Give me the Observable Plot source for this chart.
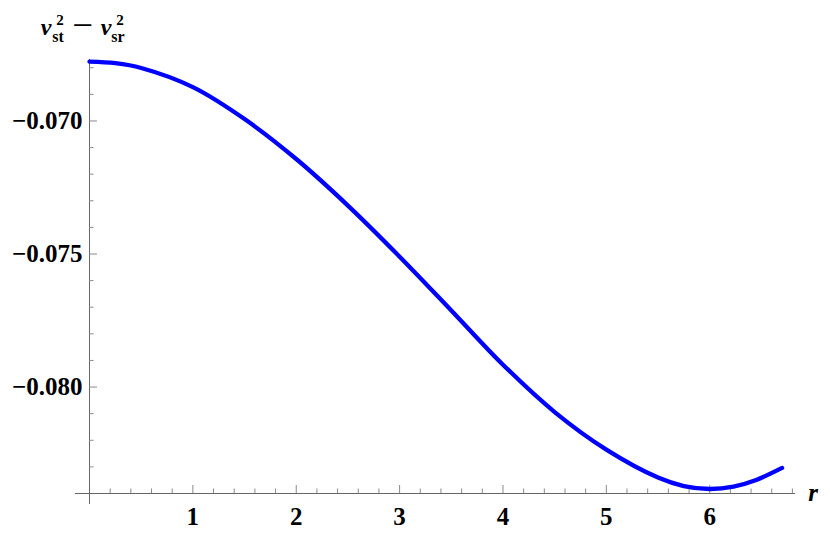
<!DOCTYPE html>
<html>
<head>
<meta charset="utf-8">
<script src="https://cdn.jsdelivr.net/npm/d3@7"></script>
<script src="https://cdn.jsdelivr.net/npm/@observablehq/plot@0.6"></script>
<style>
  html, body { margin: 0; padding: 0; background: #fff; }
</style>
</head>
<body>
<div id="chart"></div>
<script>
// ---- data ----
const rValues = [0, 0.25, 0.5, 1, 1.5, 2, 2.5, 3, 3.5, 4, 4.5, 5, 5.5, 5.75, 6, 6.23, 6.45, 6.7];
const diffValues = [-0.06777, -0.06783, -0.06801, -0.06873, -0.06993, -0.07143, -0.07318, -0.07510, -0.07712,
                    -0.07916, -0.08094, -0.08235, -0.08340, -0.08372, -0.08383, -0.08374, -0.08349, -0.08304];
const xTicks = [1, 2, 3, 4, 5, 6];
const xTickLabels = ["1", "2", "3", "4", "5", "6"];
const yTicks = [-0.070, -0.075, -0.080];
const yTickLabels = ["\u22120.070", "\u22120.075", "\u22120.080"];
const xDomain = [0, 6.83];
const yDomain = [-0.0840, -0.06769];

// ---- derived tables ----
const data = rValues.map((r, i) => ({r, v: diffValues[i]}));
const W = 830, H = 537;
const mL = 89, mR = 35, mT = 59, mB = 44;
const pxX = (W - mL - mR) / (xDomain[1] - xDomain[0]);   // px per x unit
const pxY = (H - mT - mB) / (yDomain[1] - yDomain[0]);   // px per y unit

const xMinor = d3.range(1, 35).map(i => +(i * 0.2).toFixed(2)).filter(d => Math.abs(d - Math.round(d)) > 1e-6 && d < xDomain[1]);
const yMinor = d3.range(-83, -67).map(i => i / 1000).filter(d => !yTicks.some(t => Math.abs(t - d) < 1e-9));

const axisColor = "#666";
const tickColor = "#8a8a8a";
const font = "'Liberation Serif', 'Times New Roman', serif";

const chart = Plot.plot({
  width: W, height: H,
  marginLeft: mL, marginRight: mR, marginTop: mT, marginBottom: mB,
  x: {domain: xDomain},
  y: {domain: yDomain},
  style: {fontFamily: font, fontSize: "25px", fontWeight: "bold", background: "#fff", overflow: "visible"},
  marks: [
    // axis lines (Mathematica-style crossing axes)
    Plot.ruleY([yDomain[0]], {x1: -14 / pxX, x2: xDomain[1], stroke: axisColor, strokeWidth: 1, clip: false}),
    Plot.ruleX([0], {y1: yDomain[0] - 11 / pxY, y2: yDomain[1], stroke: axisColor, strokeWidth: 1, clip: false}),
    // x ticks (inward)
    Plot.ruleX(xTicks, {x: d => d, y1: yDomain[0], y2: yDomain[0] + 8 / pxY, stroke: tickColor}),
    Plot.ruleX(xMinor, {x: d => d, y1: yDomain[0], y2: yDomain[0] + 4.5 / pxY, stroke: tickColor}),
    // y ticks (inward)
    Plot.ruleY(yTicks, {y: d => d, x1: 0, x2: 8 / pxX, stroke: tickColor}),
    Plot.ruleY(yMinor, {y: d => d, x1: 0, x2: 4.5 / pxX, stroke: tickColor}),
    // tick labels
    Plot.axisX({ticks: xTicks, tickFormat: (d, i) => xTickLabels[i], tickSize: 0, tickPadding: 14, label: null,
                fontSize: 25, fontWeight: "bold", fontFamily: font, fill: "#000"}),
    Plot.axisY({ticks: yTicks, tickFormat: (d, i) => yTickLabels[i], tickSize: 0, tickPadding: 7, label: null,
                fontSize: 25, fontWeight: "bold", fontFamily: font, fill: "#000"}),
    // the curve
    Plot.line(data, {x: "r", y: "v", stroke: "#0000ff", strokeWidth: 4.3, curve: "catmull-rom"})
  ]
});

// axis titles with sub/superscripts
const svg = d3.select(chart);
const lab = svg.append("g").attr("font-family", font).attr("font-weight", "bold").attr("fill", "#000");
function vTerm(x, sub) {
  lab.append("text").attr("x", x).attr("y", 35).attr("font-size", 24).attr("font-style", "italic").text("v");
  lab.append("text").attr("x", x + 14).attr("y", 25).attr("font-size", 15).text("2");
  lab.append("text").attr("x", x + 12).attr("y", 42).attr("font-size", 16).text(sub);
}
vTerm(46, "st");
lab.append("text").attr("x", 83).attr("y", 33).attr("font-size", 24)
   .attr("textLength", 21).attr("lengthAdjust", "spacingAndGlyphs").text("\u2212");
vTerm(106, "sr");
lab.append("text").attr("x", 813).attr("y", 501).attr("font-size", 25).attr("font-style", "italic").text("r");

document.getElementById("chart").appendChild(chart);
</script>
</body>
</html>
